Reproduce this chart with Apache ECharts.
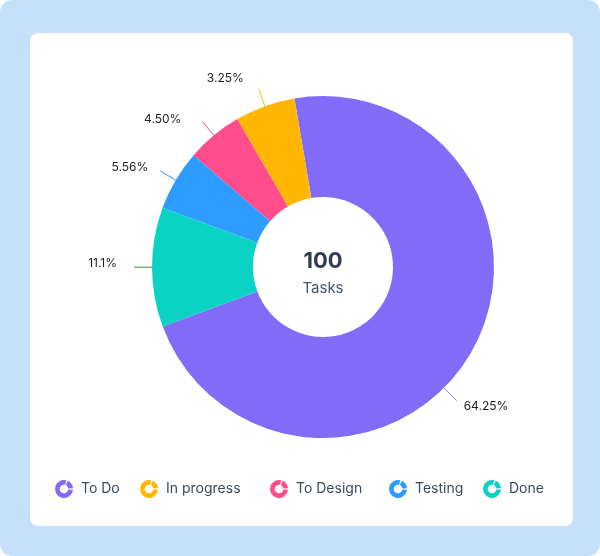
<!DOCTYPE html>
<html>
<head>
<meta charset="utf-8">
<style>
  html, body { margin: 0; padding: 0; background: #ffffff; }
  #bg { position: absolute; left: 0; top: 0; width: 600px; height: 556px; background: #c6e0fc; border-radius: 12px; }
  #card { position: absolute; left: 30px; top: 33px; width: 543px; height: 493px; background: #ffffff; border-radius: 8px; }
  #main { position: absolute; left: 0; top: 0; width: 600px; height: 556px; }
</style>
<script src="https://cdn.jsdelivr.net/npm/echarts@6/dist/echarts.min.js"></script>
</head>
<body>
<div id="bg"></div>
<div id="card"></div>
<div id="main"></div>
<script>
var categories = ['To Do', 'In progress', 'To Design', 'Testing', 'Done'];
var sliceValues = [72, 5.7, 5.3, 5.7, 11.3];
var percentLabels = ['64.25%', '3.25%', '4.50%', '5.56%', '11.1%'];
var totalTasks = '100';

var colors = ['#816bf7', '#ffb703', '#ff4d8b', '#2e9bff', '#0ad2c5'];
var lineColors = ['#8f7cf8', '#ffb703', '#ff4d8b', '#2e9bff', '#2f8f3a'];
var legendLeft = [55, 140, 270, 389, 483];
// nudges of each label text from the end of its line
var labelDx = [7, -15, -21, -12, -17];
var labelDy = [6, -11, -2, -4, -4];

var CENTER = [323, 267];
var RADIUS = [70, 171];

var ringIcon = 'path://M62.94 1.70A50 50 0 1 0 99.81 54.36L73.91 52.09A24 24 0 1 1 56.21 26.82Z' +
  'M99.81 45.64A50 50 0 0 0 71.13 4.69L60.14 28.25A24 24 0 0 1 73.91 47.91Z';

var chart = echarts.init(document.getElementById('main'), null, { renderer: 'canvas' });

var legends = categories.map(function (name, i) {
  return {
    data: [name],
    left: legendLeft[i],
    top: 480,
    padding: 0,
    itemWidth: 18,
    itemHeight: 18,
    icon: ringIcon,
    selectedMode: false,
    textStyle: {
      fontFamily: 'Inter',
      fontSize: 14,
      color: '#3c4a5e',
      padding: [0, 0, 0, 3]
    }
  };
});

var option = {
  animation: false,
  legend: legends,
  graphic: [
    {
      type: 'text',
      x: CENTER[0],
      y: 261,
      style: {
        text: totalTasks,
        fontFamily: 'Inter',
        fontSize: 22,
        fontWeight: 'bold',
        fill: '#2f3d57',
        align: 'center',
        verticalAlign: 'middle'
      }
    },
    {
      type: 'text',
      x: CENTER[0],
      y: 288,
      style: {
        text: 'Tasks',
        fontFamily: 'Inter',
        fontSize: 15,
        fill: '#46536a',
        align: 'center',
        verticalAlign: 'middle'
      }
    }
  ],
  series: [
    {
      name: 'Tasks',
      type: 'pie',
      center: CENTER,
      radius: RADIUS,
      startAngle: 200.4,
      clockwise: false,
      avoidLabelOverlap: false,
      label: {
        show: true,
        position: 'outside',
        fontFamily: 'Inter',
        fontSize: 12,
        color: '#1f1f1f',
        formatter: function (p) {
          return percentLabels[p.dataIndex];
        }
      },
      labelLine: {
        show: true,
        length: 18,
        length2: 0,
        lineStyle: { width: 1 }
      },
      labelLayout: function (p) {
        var i = p.dataIndex;
        var pts = p.labelLinePoints;
        if (i === 0) {
          // the big slice's label sits lower, at -45 degrees
          var a = -45 * Math.PI / 180;
          var s = [CENTER[0] + RADIUS[1] * Math.cos(a), CENTER[1] - RADIUS[1] * Math.sin(a)];
          var e = [CENTER[0] + (RADIUS[1] + 18) * Math.cos(a), CENTER[1] - (RADIUS[1] + 18) * Math.sin(a)];
          pts = [s, e, e];
        }
        var end = pts[pts.length - 1];
        return {
          x: end[0] + labelDx[i],
          y: end[1] + labelDy[i],
          align: i === 0 ? 'left' : 'right',
          verticalAlign: 'middle',
          labelLinePoints: pts
        };
      },
      emphasis: { disabled: true },
      data: categories.map(function (name, i) {
        return {
          name: name,
          value: sliceValues[i],
          itemStyle: { color: colors[i] },
          labelLine: { lineStyle: { color: lineColors[i] } }
        };
      })
    }
  ]
};

chart.setOption(option);
</script>
</body>
</html>
